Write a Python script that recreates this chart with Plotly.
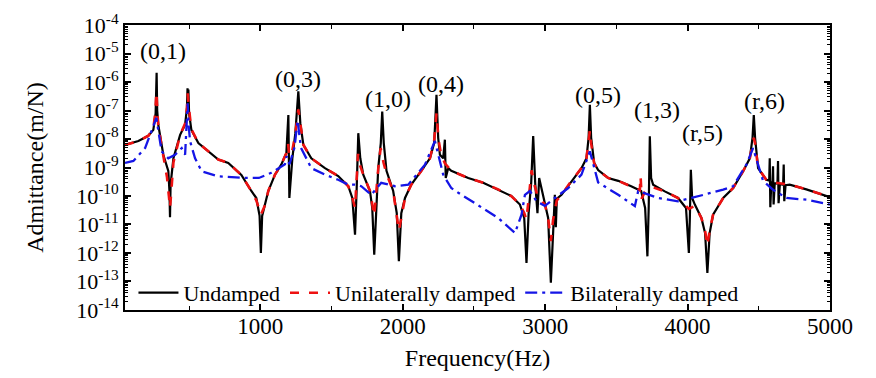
import plotly.graph_objects as go

# ---------------- data ----------------
freq_undamped = [50, 144, 214, 249, 265, 272, 276, 284, 319, 354, 362, 366, 370, 390, 437, 472,
                 485, 489, 492, 495, 500, 516, 565, 635, 705, 775, 867, 937, 972, 995, 1004, 1013,
                 1035, 1056, 1103, 1147, 1183, 1197, 1204, 1225, 1246, 1267, 1281, 1302, 1358,
                 1454, 1547, 1618, 1646, 1665, 1677, 1688, 1702, 1723, 1770, 1786, 1800, 1814,
                 1828, 1846, 1856, 1867, 1886, 1933, 1958, 1973, 1990, 2016, 2060, 2130, 2191,
                 2221, 2237, 2249, 2261, 2284, 2296, 2302, 2319, 2341, 2460, 2565, 2670, 2762,
                 2823, 2853, 2869, 2884, 2902, 2916, 2930, 2946, 2958, 2998, 3021, 3040, 3056,
                 3068, 3075, 3082, 3115, 3185, 3255, 3290, 3305, 3314, 3323, 3344, 3372, 3442,
                 3513, 3604, 3674, 3702, 3718, 3727, 3735, 3744, 3758, 3840, 3933, 3989, 4009,
                 4016, 4023, 4032, 4051, 4097, 4123, 4139, 4155, 4179, 4250, 4320, 4390, 4437,
                 4456, 4465, 4474, 4495, 4553, 4573, 4577, 4581, 4588, 4596, 4600, 4604, 4612,
                 4631, 4635, 4639, 4648, 4671, 4675, 4679, 4688, 4717, 4834, 5000]
adm_undamped = [6.2e-9, 8.5e-9, 1.3e-8, 2.1e-8, 8e-8, 2.1e-6, 1e-7, 3.1e-8, 2.8e-9, 7.6e-10, 1.5e-10, 1.8e-11, 2.5e-10, 2.1e-9, 1.4e-8, 3.2e-8,
                1.2e-7, 6e-7, 1.5e-7, 5.5e-7, 8e-8, 2.1e-8, 7.2e-9, 3.8e-9, 1.9e-9, 1.45e-9, 5.5e-10, 1.5e-10, 8.5e-11, 2e-11, 1e-12, 2e-11,
                5.6e-11, 1.5e-10, 5.6e-10, 1.26e-9, 3.2e-9, 7e-8, 8.5e-11, 2.1e-9, 1.6e-8, 4.7e-7, 3.6e-8, 6.3e-9, 2.1e-9,
                9.5e-10, 5e-10, 2.2e-10, 8.5e-11, 4.4e-12, 2e-10, 1.6e-8, 2.1e-9, 5.6e-10, 1.5e-10, 3.8e-11, 8.7e-13, 3.8e-11,
                9.5e-10, 7.2e-9, 9.3e-8, 7.2e-9, 7.6e-10, 1.5e-10, 2.5e-11, 5.1e-13, 2.5e-11, 8.5e-11, 2.5e-10, 7.6e-10, 2.1e-9,
                7.2e-9, 3.6e-7, 1.1e-8, 2.8e-9, 2.1e-9, 9.5e-9, 4.3e-10, 9.5e-10, 7.6e-10, 4.3e-10, 2.9e-10, 1.7e-10, 1e-10,
                5e-11, 1.7e-11, 4.5e-13, 2.5e-11, 2.9e-10, 1.26e-8, 2.9e-10, 2.5e-11, 4.3e-10, 5e-11, 1.7e-11, 9e-14, 1.1e-11,
                1.1e-10, 8e-12, 8e-11, 1.1e-10, 3.4e-10, 9.5e-10, 2.1e-9, 1.1e-8, 1.6e-7, 1.1e-8, 1.45e-9, 8.1e-10, 4.3e-10,
                3.4e-10, 2.2e-10, 1.5e-10, 3.8e-11, 7.6e-13, 3.8e-11, 1.26e-8, 4.3e-10, 2.5e-10, 1.45e-10, 8.5e-11, 3.8e-11, 1e-12,
                1.7e-11, 8.3e-10, 8.5e-11, 5e-11, 1.7e-11, 5e-12, 2e-13, 5e-12, 2.2e-11, 8.5e-11, 1.9e-10, 7.4e-10, 2.1e-9,
                1.1e-8, 7e-8, 1.1e-8, 9.5e-10, 3.7e-10, 3.5e-10, 2.1e-9, 4e-11, 3e-10, 2.9e-10, 1.1e-9, 5e-11, 2.8e-10,
                2.7e-10, 1.7e-9, 5.6e-11, 2.6e-10, 2.5e-10, 1.26e-9, 6.6e-11, 2.4e-10, 2.5e-10, 1.7e-10, 9.1e-11]

freq_unilateral = [50, 144, 214, 249, 262, 271, 278, 284, 319, 345, 358, 366, 374, 390, 437, 472,
                   485, 490, 497, 516, 565, 635, 705, 775, 867, 937, 972, 1004, 1035, 1056, 1103,
                   1147, 1183, 1195, 1203, 1225, 1246, 1267, 1281, 1302, 1358, 1454, 1547, 1618,
                   1646, 1665, 1675, 1686, 1700, 1723, 1770, 1800, 1828, 1845, 1865, 1886, 1933,
                   1973, 2016, 2060, 2130, 2191, 2221, 2237, 2252, 2270, 2296, 2341, 2460, 2565,
                   2670, 2762, 2823, 2853, 2869, 2890, 2905, 2920, 2946, 2998, 3021, 3040, 3056,
                   3082, 3115, 3185, 3255, 3290, 3305, 3314, 3323, 3344, 3372, 3442, 3513, 3604,
                   3650, 3665, 3670, 3678, 3700, 3758, 3840, 3933, 3989, 4009, 4051, 4097, 4123,
                   4139, 4155, 4179, 4250, 4320, 4390, 4437, 4456, 4465, 4474, 4495, 4553, 4620,
                   4717, 4834, 5000]
adm_unilateral = [6.2e-9, 8.5e-9, 1.3e-8, 2.3e-8, 8e-8, 4.5e-7, 8e-8, 2.8e-8, 2.6e-9, 4.5e-10, 1e-10, 3.8e-11, 1.2e-10, 1.5e-9, 1.4e-8, 3.5e-8,
                  1.2e-7, 4e-7, 1.5e-7, 2.2e-8, 7.2e-9, 3.8e-9, 1.9e-9, 1.45e-9, 5.5e-10, 1.5e-10, 7e-11, 2.2e-11, 5e-11, 1.5e-10, 5.6e-10,
                  1.26e-9, 3.2e-9, 7e-9, 2.5e-9, 4e-9, 1.5e-8, 1.1e-7, 3.4e-8, 6.3e-9, 2.1e-9, 9.5e-10, 5e-10, 2.2e-10,
                  9e-11, 3.8e-11, 3e-10, 3e-9, 1.2e-9, 5.6e-10, 1.5e-10, 2e-11, 9e-10, 4.8e-9, 1.5e-9, 6e-10, 1.5e-10,
                  6e-12, 8.5e-11, 2.5e-10, 7.6e-10, 2.1e-9, 9e-9, 8e-8, 9e-9, 2.8e-9, 1.4e-9, 7.6e-10, 4.3e-10, 2.9e-10,
                  1.7e-10, 1e-10, 5e-11, 2.5e-11, 1.5e-11, 2e-10, 8e-10, 3e-10, 1e-10, 5e-11, 1.7e-11, 2.6e-12, 1.5e-11,
                  7e-11, 1.1e-10, 3.4e-10, 9.5e-10, 2.1e-9, 7e-9, 2e-8, 7e-9, 1.4e-9, 8e-10, 4.3e-10, 3.4e-10, 2.2e-10,
                  1.7e-10, 1.6e-10, 5e-10, 8e-11, 1.4e-10, 2e-10, 1.45e-10, 8.5e-11, 4.5e-11, 3.5e-11, 4.5e-11, 1.7e-11, 6e-12,
                  1.8e-12, 6e-12, 2.2e-11, 8.5e-11, 1.9e-10, 7.4e-10, 2.1e-9, 7e-9, 1.1e-8, 7e-9, 9.5e-10, 3.7e-10, 2.9e-10,
                  2.5e-10, 1.7e-10, 9.1e-11]

freq_bilateral = [50, 109, 191, 237, 270, 307, 354, 401, 448, 472, 482, 490, 497, 507, 542, 588,
                  705, 881, 990, 1077, 1173, 1185, 1205, 1240, 1262, 1285, 1358, 1454, 1547, 1618,
                  1665, 1709, 1779, 1849, 1945, 2039, 2156, 2226, 2284, 2341, 2390, 2565, 2670,
                  2788, 2834, 2858, 2893, 2939, 2998, 3068, 3162, 3255, 3314, 3372, 3513, 3630,
                  3653, 3793, 3933, 4027, 4121, 4250, 4320, 4413, 4460, 4530, 4600, 4694, 4834, 5000]
adm_bilateral = [1.45e-9, 1.7e-9, 4.8e-9, 1.85e-8, 5.5e-8, 3.7e-9, 2.1e-9, 2.8e-9, 4.8e-9, 2.8e-9, 2e-8, 1.8e-7, 3e-8, 8.3e-9, 2.1e-9, 7.4e-10,
                 4.9e-10, 4.3e-10, 4.3e-10, 6.5e-10, 1.3e-9, 2.5e-9, 1.3e-9, 5e-9, 4.5e-8, 5e-9, 9.5e-10, 5.6e-10, 3.7e-10, 2.5e-10,
                 2.5e-10, 2.2e-10, 1.1e-10, 2.9e-10, 2.2e-10, 2.5e-10, 1.26e-9, 8.5e-9, 5.6e-10, 1.9e-10, 1.3e-10, 3.5e-11, 1.7e-11,
                 5e-12, 2.2e-11, 1.1e-10, 1.5e-10, 6.6e-11, 4.5e-11, 8.5e-11, 1.9e-10, 5.6e-10, 3.7e-9, 3e-10, 1.1e-10, 4.4e-11,
                 1.5e-10, 8.5e-11, 6.5e-11, 8.5e-11, 1.1e-10, 1.66e-10, 2.2e-10, 1.26e-9, 4.8e-9, 3.4e-10, 1.66e-10, 8.5e-11, 7.4e-11, 5e-11]

mode_labels = ["(0,1)", "(0,3)", "(1,0)", "(0,4)", "(0,5)", "(1,3)", "(r,5)", "(r,6)"]
label_freq = [319, 1267, 1898, 2270, 3372, 3786, 4102, 4537]
label_log_adm = [-4.91, -5.89, -6.60, -6.07, -6.46, -6.98, -7.79, -6.67]

x_tick_vals = [1000, 2000, 3000, 4000, 5000]
x_minor_vals = [500, 1500, 2500, 3500, 4500]
y_exponents = list(range(-14, -3))

# ---------------- figure ----------------
FONT = "Liberation Serif, Times New Roman, serif"

fig = go.Figure()
fig.add_trace(go.Scatter(x=freq_undamped, y=adm_undamped, mode="lines", name="Undamped",
                         line=dict(color="black", width=2.2)))
fig.add_trace(go.Scatter(x=freq_unilateral, y=adm_unilateral, mode="lines", name="Unilaterally damped",
                         line=dict(color="#ee1111", width=2.6, dash="9px,10px")))
fig.add_trace(go.Scatter(x=freq_bilateral, y=adm_bilateral, mode="lines", name="Bilaterally damped",
                         line=dict(color="#1515e6", width=2.3, dash="12px,5px,3px,5px")))

y_major = [10.0 ** e for e in y_exponents]
y_text = ["10<sup>%d</sup>" % e for e in y_exponents]
y_minor = [k * 10.0 ** e for e in y_exponents[:-1] for k in range(2, 10)]

for txt, fx, fy in zip(mode_labels, label_freq, label_log_adm):
    fig.add_annotation(x=fx, y=fy, xref="x", yref="y", text=txt, showarrow=False,
                       font=dict(family=FONT, size=24, color="black"))

fig.update_layout(
    template="none",
    width=876, height=378,
    margin=dict(l=117, r=54, t=17, b=76, autoexpand=False),
    paper_bgcolor="white", plot_bgcolor="white",
    font=dict(family=FONT, color="black"),
    showlegend=True,
    legend=dict(orientation="h", x=0.012, xanchor="left", y=0.06, yanchor="middle",
                bgcolor="rgba(0,0,0,0)", font=dict(family=FONT, size=22, color="black"),
                itemwidth=40, tracegroupgap=0),
    xaxis=dict(range=[50, 5000], tickmode="array", tickvals=x_tick_vals, automargin=False,
               ticks="inside", ticklen=6, tickwidth=1.5, tickcolor="black",
               showline=True, linecolor="black", linewidth=1.8, mirror="ticks",
               showgrid=False, zeroline=False, ticklabeloverflow="allow", ticklabelstandoff=-6,
               minor=dict(tickmode="array", tickvals=x_minor_vals, ticks="inside", ticklen=4,
                          tickwidth=1.2, tickcolor="black", showgrid=False),
               tickfont=dict(family=FONT, size=23, color="black"),
               title=dict(text="Frequency(Hz)", font=dict(family=FONT, size=24, color="black"), standoff=12)),
    yaxis=dict(type="log", range=[-14.003, -3.997], tickmode="array", tickvals=y_major, ticktext=y_text,
               automargin=False, ticklabeloverflow="allow",
               ticks="inside", ticklen=6, tickwidth=1.5, tickcolor="black",
               showline=True, linecolor="black", linewidth=1.8, mirror="ticks",
               showgrid=False, zeroline=False,
               minor=dict(tickmode="array", tickvals=y_minor, ticks="inside", ticklen=3,
                          tickwidth=1, tickcolor="black", showgrid=False),
               tickfont=dict(family=FONT, size=22, color="black"),
               title=dict(text="Admittance(m/N)", font=dict(family=FONT, size=24, color="black"), standoff=26)),
)

fig.write_html("out.html")
